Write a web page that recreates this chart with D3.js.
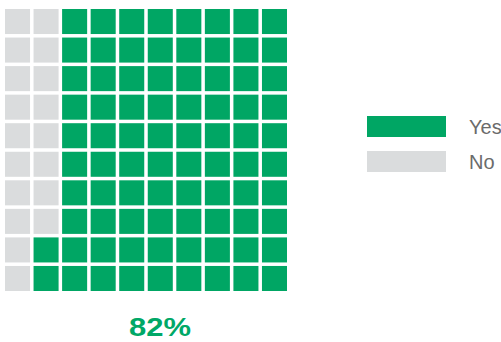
<!DOCTYPE html>
<html>
<head>
<meta charset="utf-8">
<script src="https://cdn.jsdelivr.net/npm/d3@7"></script>
<style>
  html, body { margin: 0; padding: 0; background: #fff; }
  svg { display: block; }
</style>
</head>
<body>
<svg id="chart" width="501" height="342"></svg>
<script>
// Share of respondents answering yes, out of 100
const categories = ["Yes", "No"];
const values = [82, 18];
const colors = ["#00a664", "#dadcdd"];
const percentLabel = "82%";

const gridSize = 10;

const svg = d3.select("#chart");

// Each cell is one percent; grey cells fill columns from the left, top to bottom
const cells = [];
let idx = 0;
for (let c = 0; c < gridSize; c++) {
  for (let r = 0; r < gridSize; r++) {
    cells.push({ col: c, row: r, i: idx++ });
  }
}
const noCount = values[1];

const band = d3.range(gridSize);
const x = d3.scaleBand().domain(band).range([5, 287]).paddingInner(0.123).paddingOuter(0);
const y = d3.scaleBand().domain(band).range([9, 291]).paddingInner(0.123).paddingOuter(0);

svg.append("g")
  .selectAll("rect")
  .data(cells)
  .join("rect")
  .attr("x", d => x(d.col))
  .attr("y", d => y(d.row))
  .attr("width", x.bandwidth())
  .attr("height", y.bandwidth())
  .attr("fill", d => d.i < noCount ? colors[1] : colors[0]);

// Legend
const legend = svg.append("g").attr("transform", "translate(367,116)");
const item = legend.selectAll("g")
  .data(categories)
  .join("g")
  .attr("transform", (d, i) => `translate(0,${i * 35})`);
item.append("rect")
  .attr("width", 79)
  .attr("height", 21)
  .attr("fill", (d, i) => colors[i]);
item.append("text")
  .attr("x", 102)
  .attr("y", 17.5)
  .attr("font-family", "Liberation Sans, Arial, sans-serif")
  .attr("font-size", 20)
  .attr("fill", "#6b6b6b")
  .text(d => d);

// Headline percentage
svg.append("text")
  .attr("x", 160)
  .attr("y", 336)
  .attr("text-anchor", "middle")
  .attr("font-family", "Liberation Sans, Arial, sans-serif")
  .attr("font-weight", "bold")
  .attr("font-size", 25)
  .attr("textLength", 62)
  .attr("lengthAdjust", "spacingAndGlyphs")
  .attr("fill", "#00a867")
  .text(percentLabel);
</script>
</body>
</html>
